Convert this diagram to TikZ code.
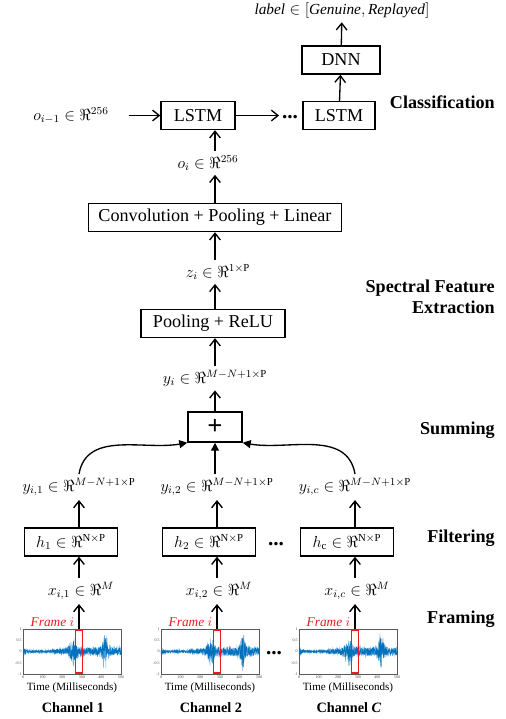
\documentclass[tikz,border=0pt]{standalone}
\usepackage{fontspec}
\setmainfont{Liberation Serif}
\usetikzlibrary{arrows.meta}

\definecolor{wavedark}{RGB}{0,114,189}
\definecolor{wavelight}{RGB}{125,178,225}
\definecolor{framered}{RGB}{235,25,35}

\tikzset{
  box/.style={draw, line width=1.1pt, minimum height=21pt, inner sep=0pt, font=\fontsize{13.6}{16}\selectfont},
  mathlbl/.style={inner sep=3pt, font=\fontsize{11.5}{13}\selectfont},
  heading/.style={anchor=east, align=right, inner sep=0pt, font=\fontsize{13.6}{16}\selectfont\bfseries},
  flow/.style={-{Straight Barb[length=5pt,width=8pt]}, line width=1pt},
  sumarrow/.style={-{Triangle[length=6pt,width=6pt]}, line width=1pt},
  ellip/.style={anchor=base, inner sep=2pt, font=\fontsize{16}{18}\selectfont\bfseries},
  axisbox/.style={draw=black!65, line width=0.3pt},
  ticklbl/.style={font=\fontsize{3}{3.5}\selectfont, text=black!75, inner sep=0.5pt},
}

\begin{document}
\begin{tikzpicture}[x=0.75pt, y=0.75pt,
  declare function={bump(\x,\m,\w)=1/(1+((\x-\m)/\w)^2)/(1+((\x-\m)/\w)^2);
    env(\x)=0.06+0.12*bump(\x,5,12)+0.06*(\x>150)+0.55*bump(\x,255,28)+0.09*(\x>290)+0.72*bump(\x,418,17);}]
\useasboundingbox (0,0) rectangle (506,-719);
\pgfmathsetseed{3}

\node[mathlbl] (label) at (342,-10) {$\mathit{label}\in[\mathit{Genuine},\mathit{Replayed}]$};
\node[box, minimum width=58.5pt] (dnn) at (341,-60) {DNN};
\node[box, minimum width=54pt] (lstmB) at (339,-115.5) {LSTM};
\node[box, minimum width=55.5pt] (lstmA) at (198,-115.5) {LSTM};
\node[ellip] (dotsA) at (290,-118) {...};
\node[mathlbl] (oprev) at (71,-115.5) {$o_{i-1}\in\Re^{256}$};
\node[mathlbl] (oi) at (208,-163) {$o_i\in\Re^{256}$};
\node[box, minimum width=190pt] (conv) at (215,-217.5) {Convolution + Pooling + Linear};
\node[mathlbl] (zi) at (218,-272) {$z_i\in\Re^{1\times\mathrm{P}}$};
\node[box, minimum width=108pt] (pool) at (213,-323.5) {Pooling + ReLU};
\node[mathlbl] (yi) at (215,-378) {$y_i\in\Re^{M-N+1\times\mathrm{P}}$};
\node[box, minimum width=40.5pt, minimum height=22.5pt, font=\fontsize{20}{22}\selectfont\bfseries] (plus) at (215,-427) {+};

\node[heading] at (495,-102) {Classification};
\node[heading] at (495,-297) {Spectral Feature\\Extraction};
\node[heading] at (495,-430) {Summing};
\node[heading] at (495,-538) {Filtering};
\node[heading] at (495,-619) {Framing};

\foreach \lx/\n/\s/\hs/\ch in {23/1/1/1/1, 161/2/2/2/2, 299/c/c/\mathrm{c}/\textit{C}}{
  \begin{scope}[shift={(\lx,-651.5)}]
    \draw[wavelight, line width=0.35pt] plot[domain=0:500, samples=450, variable=\t] ({\t*0.196},{22.5*env(\t)*rand});
    \draw[wavedark, line width=0.35pt] plot[domain=0:500, samples=450, variable=\t] ({\t*0.196},{17*env(\t)*rand});
    \draw[axisbox] (0,-22.5) rectangle (98,22.5);
    \foreach \v/\yy in {1/22.5,0.5/11.25,0/0,-0.5/-11.25,-1/-22.5}
      \node[ticklbl, anchor=east] at (-0.5,\yy) {\v};
    \foreach \tx in {0,100,...,500}
      \node[ticklbl, anchor=north] at ({\tx*0.196},-23) {\tx};
    \node[draw=framered, line width=1.1pt, minimum width=5.25pt, minimum height=32.5pt, inner sep=0pt] (fr\n) at (56,0) {};
    \node[anchor=west, text=framered, font=\fontsize{10}{12}\selectfont] at (3,29) {$\mathit{Frame}\ i$};
    \node[font=\fontsize{8.3}{10}\selectfont] at (49,-36.5) {Time (Milliseconds)};
    \node[font=\fontsize{10.7}{12}\selectfont\bfseries] at (50,-56.5) {Channel \ch};
  \end{scope}
  \node[mathlbl] (xi\n) at (\lx+58,-591) {$x_{i,\s}\in\Re^{M}$};
  \node[box, minimum width=70pt, font=\fontsize{11.5}{13}\selectfont] (h\n) at (\lx+48,-542) {$h_{\hs}\in\Re^{\mathrm{N}\times\mathrm{P}}$};
  \node[mathlbl] (yi\n) at (\lx+56,-487) {$y_{i,\s}\in\Re^{M-N+1\times\mathrm{P}}$};
  \draw[flow] (fr\n.north) -- (xi\n.south -| fr\n.north);
  \draw[flow] (xi\n.north -| fr\n.north) -- (h\n.south -| fr\n.north);
  \draw[flow] (h\n.north -| fr\n.north) -- (yi\n.south -| fr\n.north);
}

\node[ellip] (dotsH) at (276,-545) {...};
\node[ellip] (dotsW) at (274,-654) {...};

\draw[sumarrow] (yi1.north -| fr1.north) to [out=80, in=190] (plus.south west);
\draw[sumarrow] (yi2.north -| plus.south) -- (plus.south);
\draw[sumarrow] (yic.north -| frc.north) to [out=100, in=-10] (plus.south east);

\draw[flow] (plus) -- (yi);
\draw[flow] (yi.north -| plus.north) -- (pool.south -| plus.north);
\draw[flow] (pool.north -| plus.north) -- (zi.south -| plus.north);
\draw[flow] (zi.north -| plus.north) -- (conv.south -| plus.north);
\draw[flow] (conv.north) -- (oi.south -| conv.north);
\draw[flow] (oi.north -| conv.north) -- (lstmA.south -| conv.north);
\draw[flow, shorten <=12pt] (oprev) -- (lstmA);
\draw[flow] (lstmA) -- (dotsA.west |- lstmA);
\draw[flow] (lstmB) -- (dnn);
\draw[flow] (dnn) -- (label);
\end{tikzpicture}
\end{document}
